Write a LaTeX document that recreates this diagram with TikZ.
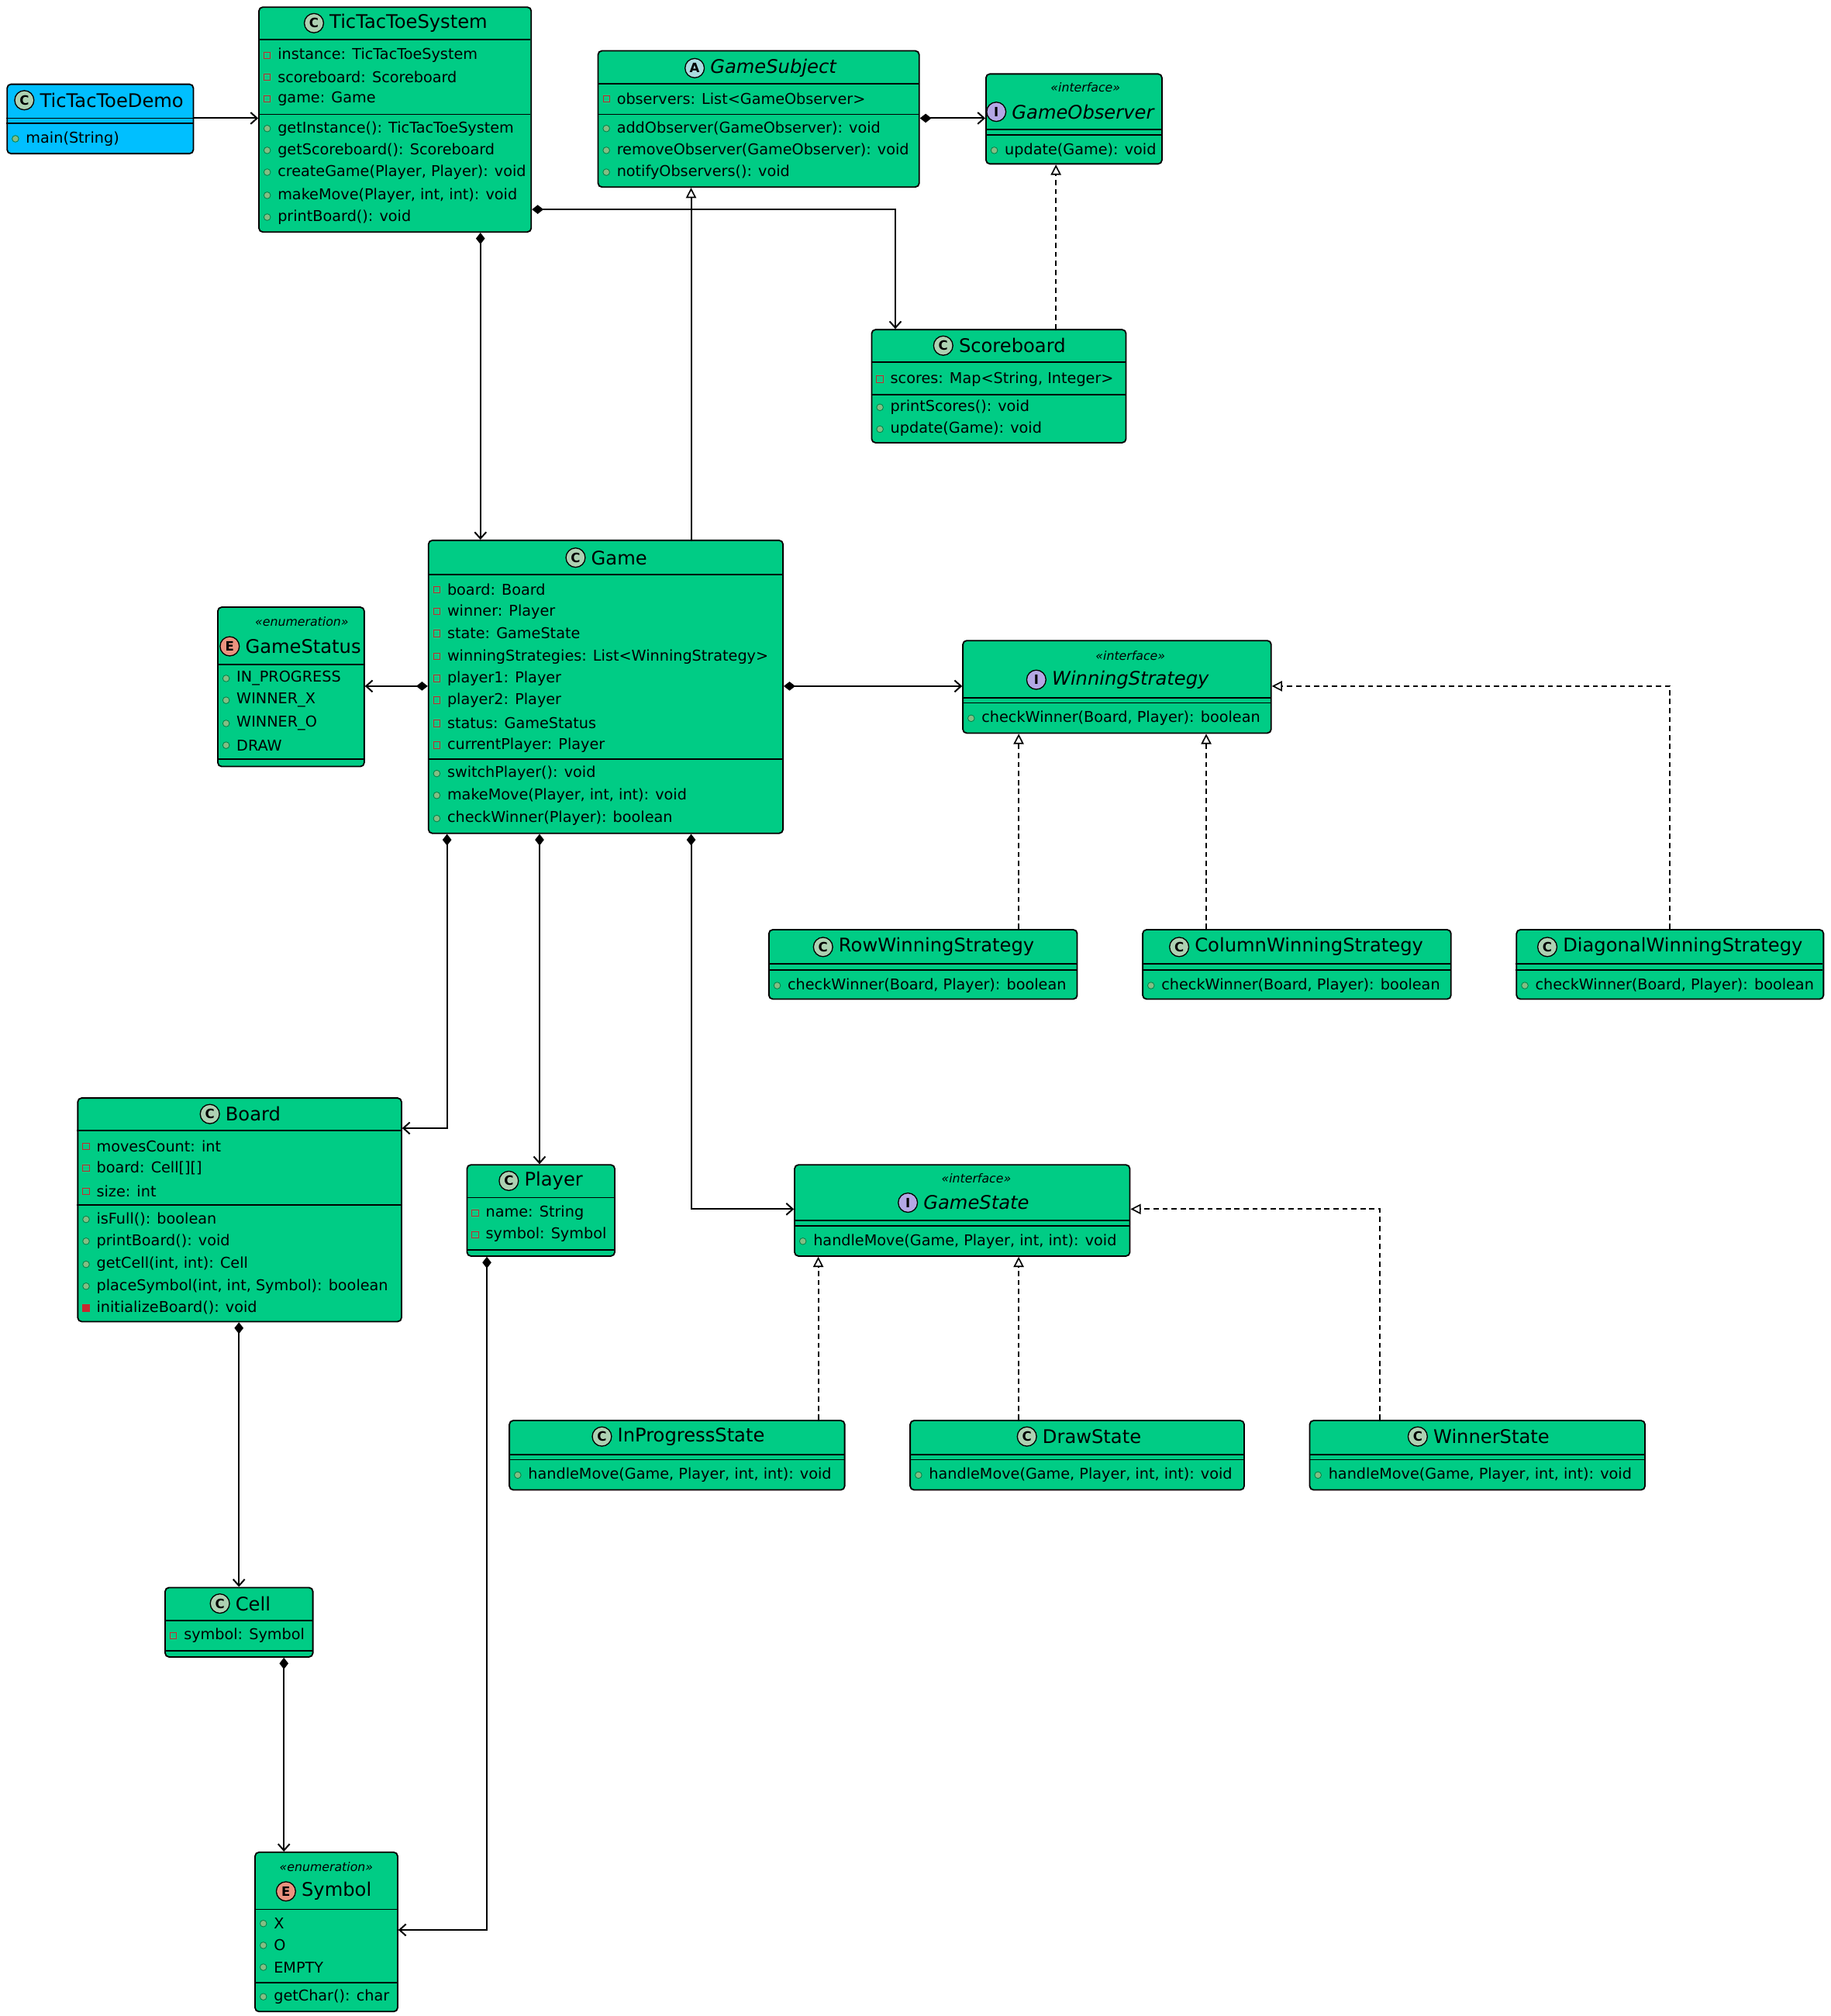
\documentclass[tikz,border=0pt]{standalone}
\usepackage{fontspec}
\setmainfont{DejaVu Sans}
\usetikzlibrary{arrows.meta}
\definecolor{cgreen}{HTML}{00CC85}
\definecolor{cblue}{HTML}{00BFFF}
\definecolor{icC}{HTML}{ADD1B2}
\definecolor{icA}{HTML}{A9DCDF}
\definecolor{icI}{HTML}{B4A7E5}
\definecolor{icE}{HTML}{EB937F}
\definecolor{privc}{HTML}{C82930}
\definecolor{pubc}{HTML}{038048}
\definecolor{pubf}{HTML}{84BE84}
\tikzset{
 ubox/.style={draw=black,line width=1.1pt,rounded corners=3pt,inner sep=0pt,anchor=north west},
 rowtxt/.style={anchor=west,inner sep=0pt,font=\fontsize{11.6}{13}\selectfont},
 ttltxt/.style={inner sep=0pt,font=\fontsize{14.6}{17}\selectfont},
 sttxt/.style={inner sep=0pt,font=\fontsize{9.5}{11}\selectfont\itshape},
 conn/.style={line width=1.2pt},
 comp/.style={conn,{Diamond[length=9pt,width=7pt]}-{Straight Barb[length=5pt,width=9pt]}},
 assoc/.style={conn,-{Straight Barb[length=5pt,width=9pt]}},
 inh/.style={conn,-{Triangle[open,length=8pt,width=8pt,line width=1pt]}},
 real/.style={conn,dashed,dash pattern=on 4pt off 3pt,-{Triangle[open,length=8pt,width=8pt,line width=1pt]}},
}
% box: id, x1,y1,x2,y2, fill
\newcommand\ubx[6]{\node[ubox,fill=#6,minimum width={(#4-#2)*1pt},minimum height={(#5-#3)*1pt}] (#1) at (#2,#3) {};}
% title: xcenter,y,letter,iconcolor,text
\newcommand\ttl[5]{\node[ttltxt] (tt) at (#1,#2) {#5};
 \draw[line width=0.8pt,fill=#4] ([xshift=-12pt]tt.west) circle (7.5pt);
 \node[inner sep=0pt,font=\fontsize{10}{11}\selectfont\bfseries] at ([xshift=-12pt]tt.west) {#3};}
\newcommand\hl[3]{\draw[line width=1.1pt] (#1,#3)--(#2,#3);}
\newcommand\pv[3]{\draw[privc,line width=0.6pt] (#1+4.5,#2-2.5) rectangle (#1+9.5,#2+2.5); \node[rowtxt] at (#1+15,#2) {#3};}
\newcommand\pvm[3]{\draw[privc,fill=privc,line width=0.6pt] (#1+4.5,#2-2.5) rectangle (#1+9.5,#2+2.5); \node[rowtxt] at (#1+15,#2) {#3};}
\newcommand\pb[3]{\draw[pubc,fill=pubf,line width=0.5pt] (#1+7,#2) circle (2.6pt); \node[rowtxt] at (#1+15,#2) {#3};}
\begin{document}
\begin{tikzpicture}[x=1pt,y=-1pt]
\useasboundingbox (0,0) rectangle (1425,1569);
% TicTacToeDemo
\ubx{demo}{5}{65}{150}{119}{cblue}
\ttl{87}{78}{C}{icC}{TicTacToeDemo}
\hl{5}{150}{92}\hl{5}{150}{96}
\pb{5}{108}{main(String)}
% TicTacToeSystem
\ubx{sys}{201}{5}{413}{180}{cgreen}
\ttl{318}{18}{C}{icC}{TicTacToeSystem}
\hl{201}{413}{31}
\pv{201}{43}{instance: TicTacToeSystem}
\pv{201}{60}{scoreboard: Scoreboard}
\pv{201}{77}{game: Game}
\hl{201}{413}{89}
\pb{201}{100}{getInstance(): TicTacToeSystem}
\pb{201}{117}{getScoreboard(): Scoreboard}
\pb{201}{134}{createGame(Player, Player): void}
\pb{201}{152}{makeMove(Player, int, int): void}
\pb{201}{169}{printBoard(): void}
% GameSubject
\ubx{subj}{465}{39}{715}{145}{cgreen}
\ttl{602}{53}{A}{icA}{\itshape GameSubject}
\hl{465}{715}{65}
\pv{465}{77}{observers: List<GameObserver>}
\hl{465}{715}{89}
\pb{465}{100}{addObserver(GameObserver): void}
\pb{465}{117}{removeObserver(GameObserver): void}
\pb{465}{134}{notifyObservers(): void}
% GameObserver
\ubx{obs}{767}{57}{904}{127}{cgreen}
\node[sttxt] at (845,68) {«interface»};
\ttl{843}{87}{I}{icI}{\itshape GameObserver}
\hl{767}{904}{101}\hl{767}{904}{105}
\pb{767}{117}{update(Game): void}
% Scoreboard
\ubx{score}{678}{256}{876}{344}{cgreen}
\ttl{788}{269}{C}{icC}{Scoreboard}
\hl{678}{876}{282}
\pv{678}{295}{scores: Map<String, Integer>}
\hl{678}{876}{307}
\pb{678}{317}{printScores(): void}
\pb{678}{334}{update(Game): void}
% Game
\ubx{game}{333}{420}{609}{648}{cgreen}
\ttl{482}{434}{C}{icC}{Game}
\hl{333}{609}{447}
\pv{333}{459}{board: Board}
\pv{333}{476}{winner: Player}
\pv{333}{493}{state: GameState}
\pv{333}{511}{winningStrategies: List<WinningStrategy>}
\pv{333}{528}{player1: Player}
\pv{333}{545}{player2: Player}
\pv{333}{563}{status: GameStatus}
\pv{333}{580}{currentPlayer: Player}
\hl{333}{609}{591}
\pb{333}{602}{switchPlayer(): void}
\pb{333}{619}{makeMove(Player, int, int): void}
\pb{333}{637}{checkWinner(Player): boolean}
% GameStatus
\ubx{gstat}{169}{472}{283}{596}{cgreen}
\node[sttxt] at (235,484) {«enumeration»};
\ttl{236}{503}{E}{icE}{GameStatus}
\hl{169}{283}{517}
\pb{169}{528}{IN\_PROGRESS}
\pb{169}{545}{WINNER\_X}
\pb{169}{563}{WINNER\_O}
\pb{169}{580}{DRAW}
\hl{169}{283}{591}
% WinningStrategy
\ubx{ws}{749}{498}{989}{570}{cgreen}
\node[sttxt] at (880,510) {«interface»};
\ttl{880}{529}{I}{icI}{\itshape WinningStrategy}
\hl{749}{989}{543}\hl{749}{989}{547}
\pb{749}{559}{checkWinner(Board, Player): boolean}
% Row/Column/Diagonal
\ubx{row}{598}{723}{838}{777}{cgreen}
\ttl{729}{737}{C}{icC}{RowWinningStrategy}
\hl{598}{838}{750}\hl{598}{838}{755}
\pb{598}{767}{checkWinner(Board, Player): boolean}
\ubx{col}{889}{723}{1129}{777}{cgreen}
\ttl{1019}{737}{C}{icC}{ColumnWinningStrategy}
\hl{889}{1129}{750}\hl{889}{1129}{755}
\pb{889}{767}{checkWinner(Board, Player): boolean}
\ubx{diag}{1180}{723}{1419}{777}{cgreen}
\ttl{1310}{737}{C}{icC}{DiagonalWinningStrategy}
\hl{1180}{1419}{750}\hl{1180}{1419}{755}
\pb{1180}{767}{checkWinner(Board, Player): boolean}
% Board
\ubx{board}{60}{854}{312}{1028}{cgreen}
\ttl{197}{867}{C}{icC}{Board}
\hl{60}{312}{880}
\pv{60}{892}{movesCount: int}
\pv{60}{909}{board: Cell[][]}
\pv{60}{927}{size: int}
\hl{60}{312}{938}
\pb{60}{949}{isFull(): boolean}
\pb{60}{966}{printBoard(): void}
\pb{60}{984}{getCell(int, int): Cell}
\pb{60}{1001}{placeSymbol(int, int, Symbol): boolean}
\pvm{60}{1018}{initializeBoard(): void}
% Player
\ubx{player}{363}{906}{478}{977}{cgreen}
\ttl{431}{919}{C}{icC}{Player}
\hl{363}{478}{932}
\pv{363}{944}{name: String}
\pv{363}{961}{symbol: Symbol}
\hl{363}{478}{973}
% GameState
\ubx{gs}{618}{906}{879}{977}{cgreen}
\node[sttxt] at (760,917) {«interface»};
\ttl{760}{936}{I}{icI}{\itshape GameState}
\hl{618}{879}{950}\hl{618}{879}{954}
\pb{618}{966}{handleMove(Game, Player, int, int): void}
% states
\ubx{inprog}{396}{1105}{657}{1159}{cgreen}
\ttl{538}{1118}{C}{icC}{InProgressState}
\hl{396}{657}{1132}\hl{396}{657}{1136}
\pb{396}{1148}{handleMove(Game, Player, int, int): void}
\ubx{draw}{708}{1105}{968}{1159}{cgreen}
\ttl{850}{1118}{C}{icC}{DrawState}
\hl{708}{968}{1132}\hl{708}{968}{1136}
\pb{708}{1148}{handleMove(Game, Player, int, int): void}
\ubx{winner}{1019}{1105}{1280}{1159}{cgreen}
\ttl{1161}{1118}{C}{icC}{WinnerState}
\hl{1019}{1280}{1132}\hl{1019}{1280}{1136}
\pb{1019}{1148}{handleMove(Game, Player, int, int): void}
% Cell
\ubx{cell}{128}{1235}{243}{1289}{cgreen}
\ttl{197}{1248}{C}{icC}{Cell}
\hl{128}{243}{1261}
\pv{128}{1273}{symbol: Symbol}
\hl{128}{243}{1285}
% Symbol
\ubx{sym}{198}{1441}{309}{1565}{cgreen}
\node[sttxt] at (254,1453) {«enumeration»};
\ttl{262}{1472}{E}{icE}{Symbol}
\hl{198}{309}{1486}
\pb{198}{1497}{X}
\pb{198}{1514}{O}
\pb{198}{1531}{EMPTY}
\hl{198}{309}{1543}
\pb{198}{1554}{getChar(): char}
% connectors
\draw[assoc] (demo.east|-0,92) -- (sys.west|-0,92);
\draw[comp] (subj.east|-0,92) -- (obs.west|-0,92);
\draw[comp] (sys.east|-0,163) -| (score.north-|697,0);
\draw[comp] (sys.south-|374,0) -- (game.north-|374,0);
\draw[inh] (game.north-|538,0) -- (subj.south-|538,0);
\draw[real] (score.north-|822,0) -- (obs.south-|822,0);
\draw[comp] (game.west|-0,534) -- (gstat.east|-0,534);
\draw[comp] (game.east|-0,534) -- (ws.west|-0,534);
\draw[real] (row.north-|793,0) -- (ws.south-|793,0);
\draw[real] (col.north-|939,0) -- (ws.south-|939,0);
\draw[real] (diag.north-|1300,0) |- (ws.east|-0,534);
\draw[comp] (game.south-|348,0) |- (board.east|-0,878);
\draw[comp] (game.south-|420,0) -- (player.north-|420,0);
\draw[comp] (game.south-|538,0) |- (gs.west|-0,941);
\draw[real] (inprog.north-|637,0) -- (gs.south-|637,0);
\draw[real] (draw.north-|793,0) -- (gs.south-|793,0);
\draw[real] (winner.north-|1074,0) |- (gs.east|-0,941);
\draw[comp] (board.south-|186,0) -- (cell.north-|186,0);
\draw[comp] (cell.south-|221,0) -- (sym.north-|221,0);
\draw[comp] (player.south-|379,0) |- (sym.east|-0,1502);
\end{tikzpicture}
\end{document}
